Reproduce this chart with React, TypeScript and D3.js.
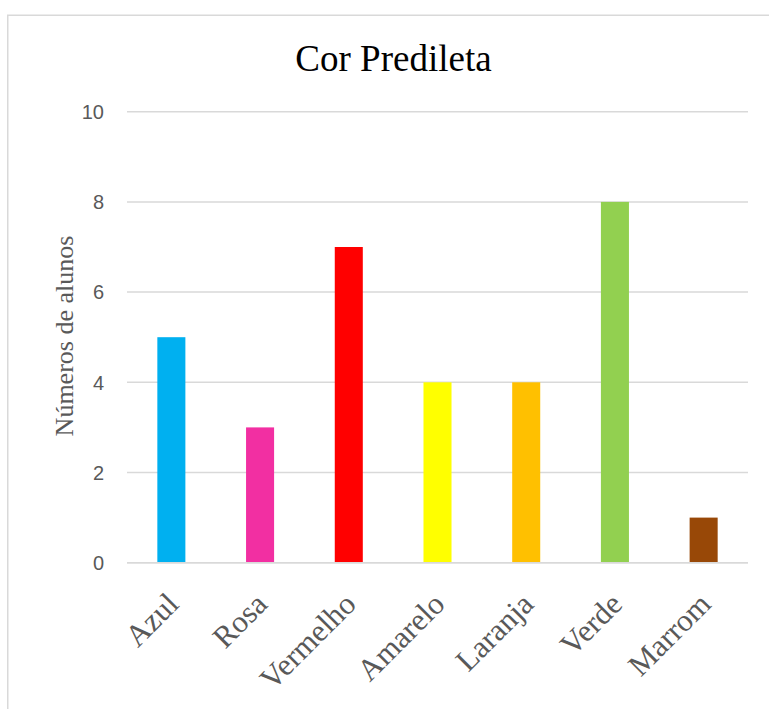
import React from "react";
import * as d3 from "d3";

const categories = ["Azul", "Rosa", "Vermelho", "Amarelo", "Laranja", "Verde", "Marrom"];
const values = [5, 3, 7, 4, 4, 8, 1];
const colors = ["#00B0F0", "#F22FA2", "#FF0000", "#FFFF00", "#FFC000", "#92D050", "#984807"];
const yTicks = [0, 2, 4, 6, 8, 10];
const title = "Cor Predileta";
const yTitle = "Números de alunos";

const W = 769;
const H = 709;
const plot = { left: 127, right: 748, top: 111.7, bottom: 562.7 };

export default function App() {
  const x = d3
    .scaleBand<string>()
    .domain(categories)
    .range([plot.left, plot.right])
    .paddingInner(0.684)
    .paddingOuter(0.342);
  const y = d3.scaleLinear().domain([0, 10]).range([plot.bottom, plot.top]);
  const serif = "'Liberation Serif', 'Times New Roman', serif";
  const sans = "'Liberation Sans', Arial, sans-serif";

  return (
    <svg
      width={W}
      height={H}
      viewBox={`0 0 ${W} ${H}`}
      style={{ position: "absolute", left: 0, top: 0, background: "#fff" }}
    >
      <rect x={0} y={0} width={W} height={H} fill="#fff" />
      <rect x={7.75} y={15.25} width={900} height={900} fill="none" stroke="#d9d9d9" strokeWidth={1.5} />
      <text x={393.5} y={70.7} textAnchor="middle" fontFamily={serif} fontSize={37} fill="#000">
        {title}
      </text>
      {yTicks.map((t) => (
        <g key={t}>
          <line x1={plot.left} x2={plot.right} y1={y(t)} y2={y(t)} stroke="#d9d9d9" strokeWidth={1.5} />
          <text
            x={104}
            y={y(t)}
            dy="0.36em"
            textAnchor="end"
            fontFamily={sans}
            fontSize={20}
            fill="#595959"
          >
            {t}
          </text>
        </g>
      ))}
      {categories.map((c, i) => (
        <rect
          key={c}
          x={x(c)}
          y={y(values[i])}
          width={x.bandwidth()}
          height={y(0) - y(values[i])}
          fill={colors[i]}
        />
      ))}
      <line x1={plot.left} x2={plot.right} y1={y(0)} y2={y(0)} stroke="#d9d9d9" strokeWidth={1.5} />
      {categories.map((c) => {
        const cx = (x(c) as number) + x.bandwidth() / 2;
        return (
          <text
            key={c}
            transform={`translate(${cx + 9},${606}) rotate(-45)`}
            textAnchor="end"
            fontFamily={serif}
            fontSize={31}
            fill="#595959"
          >
            {c}
          </text>
        );
      })}
      <text
        transform={`translate(73,336) rotate(-90)`}
        textAnchor="middle"
        fontFamily={serif}
        fontSize={26}
        fill="#595959"
      >
        {yTitle}
      </text>
    </svg>
  );
}
